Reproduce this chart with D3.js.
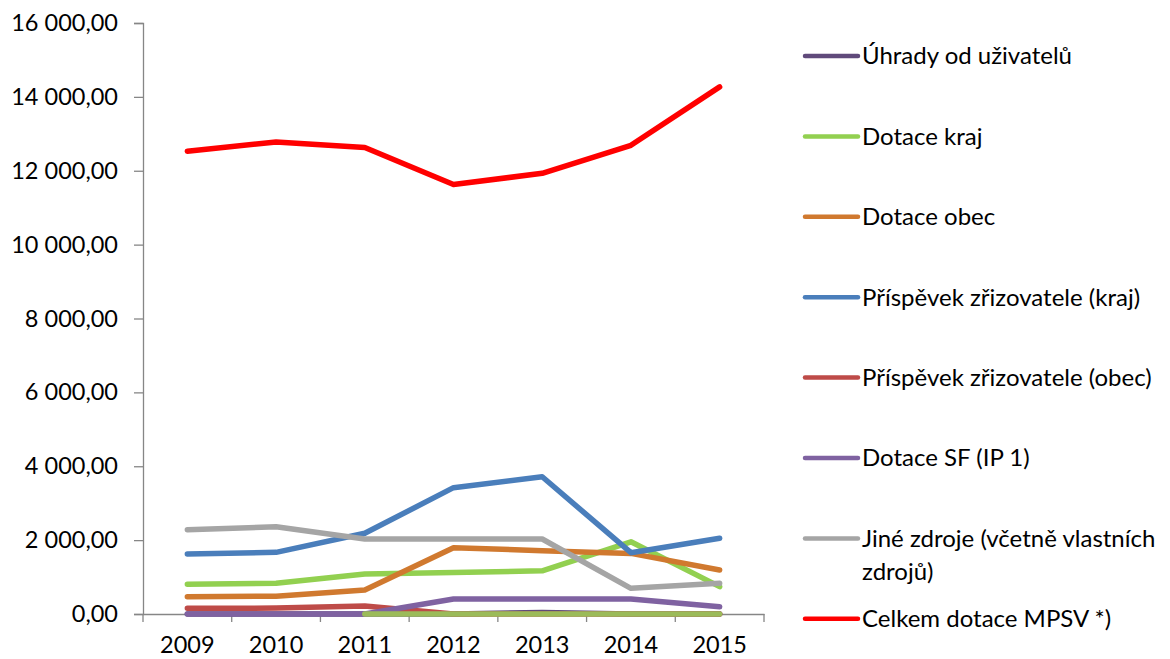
<!DOCTYPE html>
<html>
<head>
<meta charset="utf-8">
<script src="https://cdn.jsdelivr.net/npm/d3@7.9.0/dist/d3.min.js"></script>
<style>
  body { margin: 0; background: #fff; }
  svg text { font-family: Lato, "Open Sans", sans-serif; fill: #000; }
</style>
</head>
<body>
<svg id="chart" width="1170" height="659"></svg>
<script>
const years = ['2009', '2010', '2011', '2012', '2013', '2014', '2015'];
const yTicks = [0, 2000, 4000, 6000, 8000, 10000, 12000, 14000, 16000];

// one array per series (values in thousands CZK)
const uhrady       = [0, 0, 0, 0, 40, 0, 0];
const dotaceKraj   = [805, 830, 1080, 1125, 1170, 1955, 740];
const dotaceObec   = [470, 480, 650, 1795, 1715, 1640, 1190];
const prispKraj    = [1625, 1670, 2185, 3420, 3715, 1660, 2050];
const prispObec    = [155, 160, 215, 0, 0, 0, 0];
const dotaceSF     = [0, 0, 0, 405, 405, 405, 198];
const jineZdroje   = [2280, 2360, 2030, 2030, 2030, 695, 830];
const celkemMPSV   = [12530, 12780, 12630, 11630, 11930, 12690, 14270];
const bezPopisu    = [null, null, 0, 0, 0, 0, 0];

const series = [
  { name: 'Úhrady od uživatelů', values: uhrady, color: '#604a7b' },
  { name: 'Dotace kraj', values: dotaceKraj, color: '#92d050' },
  { name: 'Dotace obec', values: dotaceObec, color: '#d0792f' },
  { name: 'Příspěvek zřizovatele (kraj)', values: prispKraj, color: '#4a7ebb' },
  { name: 'Příspěvek zřizovatele (obec)', values: prispObec, color: '#be4b48' },
  { name: 'Dotace SF (IP 1)', values: dotaceSF, color: '#7f62a1' },
  { name: 'Jiné zdroje (včetně vlastních|zdrojů)', values: jineZdroje, color: '#a5a5a5' },
  { name: 'Celkem dotace MPSV *)', values: celkemMPSV, color: '#ff0000' },
  { name: null, values: bezPopisu, color: '#9bbb59' }
];

const svg = d3.select('#chart');

let x = d3.scaleBand().domain(years).range([143, 764]);
let y = d3.scaleLinear().domain([0, 16000]).range([614, 23]);

const fmt = v => d3.format(',.2f')(v).replace(/,/g, ' ').replace('.', ',');

// y axis
let yAxis = svg.append('g')
  .attr('transform', 'translate(143,0)')
  .call(d3.axisLeft(y).tickValues(yTicks).tickSize(9).tickPadding(16).tickFormat(fmt));
yAxis.selectAll('text').style('font-size', '23.5px');

// x axis
let xAxis = svg.append('g')
  .attr('transform', 'translate(0,614)')
  .call(d3.axisBottom(x).tickSize(0).tickPadding(22));
xAxis.selectAll('text').style('font-size', '23.5px');
// category boundary ticks
xAxis.selectAll('.bound')
  .data(d3.range(years.length + 1))
  .join('line')
  .attr('class', 'bound')
  .attr('x1', i => 143 + i * x.step())
  .attr('x2', i => 143 + i * x.step())
  .attr('y1', 0).attr('y2', 8);

svg.selectAll('.domain, .tick line, .bound')
  .attr('stroke', '#868686').attr('stroke-width', 1.3);

// lines
let line = d3.line()
  .defined(d => d != null)
  .x((d, i) => x(years[i]) + x.bandwidth() / 2)
  .y(d => y(d));

svg.append('g').selectAll('path')
  .data(series)
  .join('path')
  .attr('d', s => line(s.values))
  .attr('fill', 'none')
  .attr('stroke', s => s.color)
  .attr('stroke-width', 5.5)
  .attr('stroke-linecap', 'round')
  .attr('stroke-linejoin', 'round');

// legend
let legend = svg.append('g');
series.filter(s => s.name).forEach((s, idx) => {
  let ly = 56 + idx * 80.4;
  legend.append('line')
    .attr('x1', 805).attr('x2', 858)
    .attr('y1', ly).attr('y2', ly)
    .attr('stroke', s.color).attr('stroke-width', 4.5)
    .attr('stroke-linecap', 'round');
  let t = legend.append('text')
    .attr('x', 862).attr('y', ly)
    .style('font-size', '24px');
  s.name.split('|').forEach((part, k) => {
    t.append('tspan').attr('x', 862).attr('dy', k === 0 ? '0.35em' : '1.4em').text(part);
  });
});
</script>
</body>
</html>
